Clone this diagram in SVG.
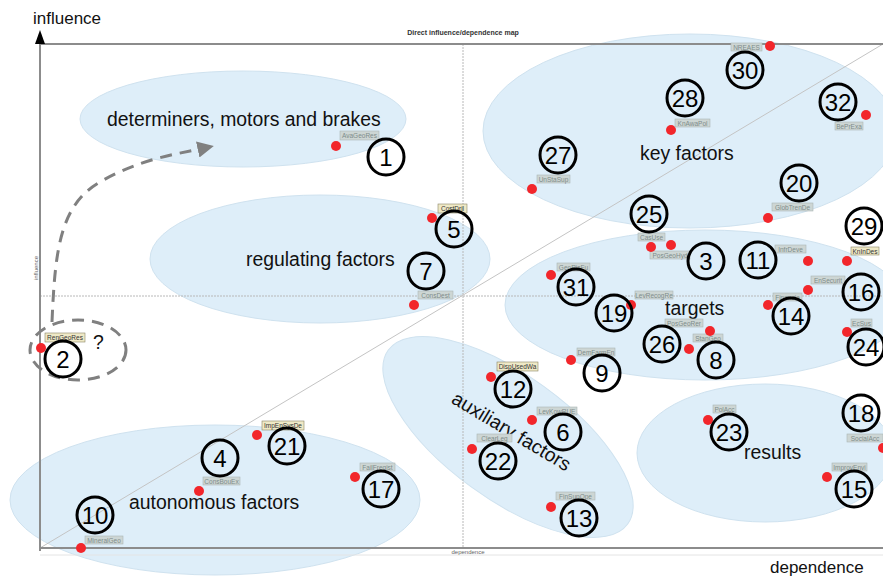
<svg xmlns="http://www.w3.org/2000/svg" width="883" height="577" viewBox="0 0 883 577">
  <defs>
    <style>
      .zone { fill: #deeef9; stroke: #cfe2ef; stroke-width: 1; }
      .zone-text { font-family: "Liberation Sans", Arial, sans-serif; font-size: 19.4px; fill: #111; }
      .axis { stroke: #8c8c8c; stroke-width: 2; fill: none; }
      .guide { stroke: #b8b8b8; stroke-width: 1; stroke-dasharray: 2 1; fill: none; }
      .diag { stroke: #c4c4c4; stroke-width: 1; fill: none; }
      .dot { fill: #f2262b; }
      .ring { fill: none; stroke: #000; stroke-width: 3; }
      .num { font-family: "Liberation Sans", Arial, sans-serif; font-size: 24px; fill: #000; text-anchor: middle; }
      .tag { fill: #cdd6d4; stroke: #aab6b4; stroke-width: 0.6; }
      .tag.hl { fill: #efe9c6; stroke: #8a8566; }
      .tag-text { font-family: "Liberation Sans", Arial, sans-serif; font-size: 6.5px; fill: #7d8c8b; text-anchor: middle; }
      .tag-text.hl { fill: #333; }
      .dash { stroke: #808080; stroke-width: 3; fill: none; stroke-dasharray: 12 8; }
      .title { font-family: "Liberation Sans", Arial, sans-serif; font-size: 7px; font-weight: bold; fill: #333; text-anchor: middle; }
      .small { font-family: "Liberation Sans", Arial, sans-serif; font-size: 6px; fill: #666; }
      .big-axis { font-family: "Liberation Sans", Arial, sans-serif; font-size: 17px; fill: #111; }
    </style>
    <marker id="head" viewBox="0 0 10 10" refX="7" refY="5" markerWidth="5.5" markerHeight="5.5" orient="auto" markerUnits="strokeWidth">
      <path d="M0,0 L10,5 L0,10 Z" fill="#808080"/>
    </marker>
  </defs>

  <rect width="883" height="577" fill="#fff"/>

  <!-- clusters -->
  <g id="zones">
    <ellipse class="zone" cx="243" cy="119" rx="163" ry="48"/>
    <ellipse class="zone" cx="320" cy="259" rx="170" ry="64"/>
    <ellipse class="zone" cx="690" cy="131" rx="207" ry="97"/>
    <ellipse class="zone" cx="705" cy="305" rx="200" ry="75"/>
    <ellipse class="zone" cx="508" cy="437" rx="148" ry="62" transform="rotate(36 508 437)"/>
    <ellipse class="zone" cx="765" cy="453" rx="128" ry="69"/>
    <ellipse class="zone" cx="215" cy="500" rx="205" ry="75"/>
  </g>

  <!-- map frame, quadrant guides and diagonal -->
  <g id="frame">
    <line class="guide" x1="463" y1="44" x2="463" y2="548"/>
    <line class="guide" x1="40" y1="296" x2="883" y2="296"/>
    <line class="diag" x1="40" y1="548" x2="883" y2="44"/>
    <line class="axis" x1="40" y1="44" x2="883" y2="44"/>
    <line class="axis" x1="40" y1="548" x2="883" y2="548"/>
    <line x1="40" y1="555" x2="883" y2="555" stroke="#e4e4e4" stroke-width="1"/>
    <line class="axis" x1="40" y1="42" x2="40" y2="551"/>
    <path d="M40,30 L45,44 L35,44 Z" fill="#000"/>
    <text class="title" x="463" y="35">Direct influence/dependence map</text>
    <text class="small" x="468" y="554" text-anchor="middle">dependence</text>
    <text class="small" transform="translate(38 268) rotate(-90)" text-anchor="middle">influence</text>
    <text class="big-axis" x="33" y="24">influence</text>
    <text class="big-axis" x="770" y="573">dependence</text>
  </g>

  <!-- cluster names -->
  <g id="zone-labels">
    <text class="zone-text" x="107" y="126">determiners, motors and brakes</text>
    <text class="zone-text" x="246" y="266">regulating factors</text>
    <text class="zone-text" x="640" y="160">key factors</text>
    <text class="zone-text" x="665" y="315">targets</text>
    <text class="zone-text" x="744" y="459">results</text>
    <text class="zone-text" x="129" y="509">autonomous factors</text>
    <text class="zone-text" text-anchor="middle" transform="translate(508 437) rotate(31)">auxiliary factors</text>
  </g>

  <!-- connectors -->
  <g id="connectors">
    <ellipse class="dash" cx="78" cy="350" rx="48" ry="30" stroke-dasharray="14 9"/>
    <path class="dash" d="M52,322 C55,250 60,205 100,182 S172,155 209,147" marker-end="url(#head)"/>
    <text class="zone-text" x="93" y="349" font-size="16">?</text>
  </g>

  <!-- variables -->
  <g id="n1"><circle class="dot" cx="336" cy="146" r="5"/><rect class="tag" x="340" y="131" width="39" height="9"/><text class="tag-text" x="359.5" y="138">AvaGeoRes</text><circle class="ring" cx="386" cy="157" r="18"/><text class="num" x="386" y="166">1</text></g>
  <g id="n2"><circle class="dot" cx="41" cy="348" r="5"/><rect class="tag hl" x="45" y="333" width="40" height="9"/><text class="tag-text hl" x="65" y="340">RenGeoRes</text><circle class="ring" cx="63" cy="359" r="18"/><text class="num" x="63" y="368">2</text></g>
  <g id="n3"><circle class="dot" cx="671" cy="245" r="5"/><rect class="tag" x="650" y="251" width="40" height="8"/><text class="tag-text" x="670" y="257.5">PosGeoHyd</text><circle class="ring" cx="706" cy="261" r="18"/><text class="num" x="706" y="270">3</text></g>
  <g id="n4"><circle class="dot" cx="199" cy="491" r="5"/><rect class="tag" x="203" y="477" width="37" height="8"/><text class="tag-text" x="221.5" y="483.5">ConsBouEx</text><circle class="ring" cx="220" cy="458" r="18"/><text class="num" x="220" y="467">4</text></g>
  <g id="n5"><circle class="dot" cx="432" cy="218" r="5"/><rect class="tag hl" x="438" y="204" width="29" height="9"/><text class="tag-text hl" x="452.5" y="211">CostDril</text><circle class="ring" cx="454" cy="229" r="18"/><text class="num" x="454" y="238">5</text></g>
  <g id="n6"><circle class="dot" cx="532" cy="420" r="5"/><rect class="tag" x="537" y="407" width="40" height="8"/><text class="tag-text" x="557" y="413.5">LevKowRUE</text><circle class="ring" cx="563" cy="432" r="18"/><text class="num" x="563" y="441">6</text></g>
  <g id="n7"><circle class="dot" cx="414" cy="305" r="5"/><rect class="tag" x="418" y="291" width="35" height="8"/><text class="tag-text" x="435.5" y="297.5">ConsDest</text><circle class="ring" cx="426" cy="271" r="18"/><text class="num" x="426" y="280">7</text></g>
  <g id="n8"><circle class="dot" cx="689" cy="349" r="5"/><rect class="tag" x="693" y="334" width="30" height="8"/><text class="tag-text" x="708" y="340.5">StanGeo</text><circle class="ring" cx="716" cy="360" r="18"/><text class="num" x="716" y="369">8</text></g>
  <g id="n9"><circle class="dot" cx="571" cy="360" r="5"/><rect class="tag" x="577" y="348" width="38" height="8"/><text class="tag-text" x="596" y="354.5">DemFarmEn</text><circle class="ring" cx="602" cy="373" r="18"/><text class="num" x="602" y="382">9</text></g>
  <g id="n10"><circle class="dot" cx="81" cy="548" r="5"/><rect class="tag" x="85" y="536" width="38" height="8"/><text class="tag-text" x="104" y="542.5">MineralGeo</text><circle class="ring" cx="95" cy="515" r="18"/><text class="num" x="95" y="524">10</text></g>
  <g id="n11"><circle class="dot" cx="808" cy="261" r="5"/><rect class="tag" x="775" y="245" width="31" height="8"/><text class="tag-text" x="790.5" y="251.5">InfrDeve</text><circle class="ring" cx="758" cy="260" r="18"/><text class="num" x="758" y="269">11</text></g>
  <g id="n12"><circle class="dot" cx="491" cy="377" r="5"/><rect class="tag hl" x="497" y="362" width="41" height="9"/><text class="tag-text hl" x="517.5" y="369">DispUsedWa</text><circle class="ring" cx="513" cy="389" r="18"/><text class="num" x="513" y="398">12</text></g>
  <g id="n13"><circle class="dot" cx="551" cy="507" r="5"/><rect class="tag" x="556" y="492" width="39" height="8"/><text class="tag-text" x="575.5" y="498.5">FinSupOpe</text><circle class="ring" cx="579" cy="518" r="18"/><text class="num" x="579" y="527">13</text></g>
  <g id="n14"><circle class="dot" cx="768" cy="305" r="5"/><rect class="tag" x="773" y="293" width="29" height="8"/><text class="tag-text" x="787.5" y="299.5">Financia</text><circle class="ring" cx="791" cy="316" r="18"/><text class="num" x="791" y="325">14</text></g>
  <g id="n15"><circle class="dot" cx="827" cy="477" r="5"/><rect class="tag" x="832" y="463" width="35" height="8"/><text class="tag-text" x="849.5" y="469.5">ImprovEnvi</text><circle class="ring" cx="854" cy="489" r="18"/><text class="num" x="854" y="498">15</text></g>
  <g id="n16"><circle class="dot" cx="808" cy="290" r="5"/><rect class="tag" x="811" y="276" width="34" height="8"/><text class="tag-text" x="828" y="282.5">EnSecurit</text><circle class="ring" cx="861" cy="292" r="18"/><text class="num" x="861" y="301">16</text></g>
  <g id="n17"><circle class="dot" cx="355" cy="477" r="5"/><rect class="tag" x="360" y="463" width="35" height="8"/><text class="tag-text" x="377.5" y="469.5">FailFregist</text><circle class="ring" cx="381" cy="489" r="18"/><text class="num" x="381" y="498">17</text></g>
  <g id="n18"><circle class="dot" cx="883" cy="448" r="5"/><rect class="tag" x="847" y="434" width="36" height="8"/><text class="tag-text" x="865" y="440.5">SocialAcc</text><circle class="ring" cx="861" cy="413" r="18"/><text class="num" x="861" y="422">18</text></g>
  <g id="n19"><circle class="dot" cx="631" cy="305" r="5"/><rect class="tag" x="635" y="291" width="38" height="8"/><text class="tag-text" x="654" y="297.5">LevRecogRe</text><circle class="ring" cx="614" cy="313" r="18"/><text class="num" x="614" y="322">19</text></g>
  <g id="n20"><circle class="dot" cx="768" cy="218" r="5"/><rect class="tag" x="772" y="203" width="41" height="8"/><text class="tag-text" x="792.5" y="209.5">GlobTrenDe</text><circle class="ring" cx="799" cy="183" r="18"/><text class="num" x="799" y="192">20</text></g>
  <g id="n21"><circle class="dot" cx="257" cy="435" r="5"/><rect class="tag hl" x="262" y="421" width="42" height="9"/><text class="tag-text hl" x="283" y="428">ImpEnSysDe</text><circle class="ring" cx="287" cy="446" r="18"/><text class="num" x="287" y="455">21</text></g>
  <g id="n22"><circle class="dot" cx="472" cy="449" r="5"/><rect class="tag" x="477" y="434" width="35" height="8"/><text class="tag-text" x="494.5" y="440.5">ClearLeg</text><circle class="ring" cx="498" cy="461" r="18"/><text class="num" x="498" y="470">22</text></g>
  <g id="n23"><circle class="dot" cx="708" cy="420" r="5"/><rect class="tag" x="713" y="405" width="23" height="8"/><text class="tag-text" x="724.5" y="411.5">PolAcc</text><circle class="ring" cx="729" cy="432" r="18"/><text class="num" x="729" y="441">23</text></g>
  <g id="n24"><circle class="dot" cx="847" cy="332" r="5"/><rect class="tag" x="851" y="319" width="21" height="8"/><text class="tag-text" x="861.5" y="325.5">EcSus</text><circle class="ring" cx="866" cy="347" r="18"/><text class="num" x="866" y="356">24</text></g>
  <g id="n25"><circle class="dot" cx="651" cy="247" r="5"/><rect class="tag" x="638" y="233" width="27" height="8"/><text class="tag-text" x="651.5" y="239.5">CasUse</text><circle class="ring" cx="649" cy="214" r="18"/><text class="num" x="649" y="223">25</text></g>
  <g id="n26"><circle class="dot" cx="710" cy="331" r="5"/><rect class="tag" x="665" y="319" width="38" height="8"/><text class="tag-text" x="684" y="325.5">PosGeoRer</text><circle class="ring" cx="662" cy="344" r="18"/><text class="num" x="662" y="353">26</text></g>
  <g id="n27"><circle class="dot" cx="532" cy="189" r="5"/><rect class="tag" x="537" y="175" width="33" height="8"/><text class="tag-text" x="553.5" y="181.5">UnStaSup</text><circle class="ring" cx="558" cy="155" r="18"/><text class="num" x="558" y="164">27</text></g>
  <g id="n28"><circle class="dot" cx="671" cy="130" r="5"/><rect class="tag" x="675" y="119" width="35" height="8"/><text class="tag-text" x="692.5" y="125.5">KnAwaPol</text><circle class="ring" cx="685" cy="98" r="18"/><text class="num" x="685" y="107">28</text></g>
  <g id="n29"><circle class="dot" cx="847" cy="261" r="5"/><rect class="tag hl" x="851" y="247" width="28" height="8"/><text class="tag-text hl" x="865" y="253.5">KnInDes</text><circle class="ring" cx="864" cy="226" r="18"/><text class="num" x="864" y="235">29</text></g>
  <g id="n30"><circle class="dot" cx="770" cy="46" r="5"/><rect class="tag" x="731" y="43" width="31" height="8"/><text class="tag-text" x="746.5" y="49.5">NREAES</text><circle class="ring" cx="745" cy="70" r="18"/><text class="num" x="745" y="79">30</text></g>
  <g id="n31"><circle class="dot" cx="551" cy="275" r="5"/><rect class="tag" x="557" y="263" width="33" height="8"/><text class="tag-text" x="573.5" y="269.5">GeoRisFu</text><circle class="ring" cx="576" cy="287" r="18"/><text class="num" x="576" y="296">31</text></g>
  <g id="n32"><circle class="dot" cx="866" cy="115" r="5"/><rect class="tag" x="835" y="122" width="28" height="8"/><text class="tag-text" x="849" y="128.5">BePrExa</text><circle class="ring" cx="838" cy="102" r="18"/><text class="num" x="838" y="111">32</text></g>
</svg>
